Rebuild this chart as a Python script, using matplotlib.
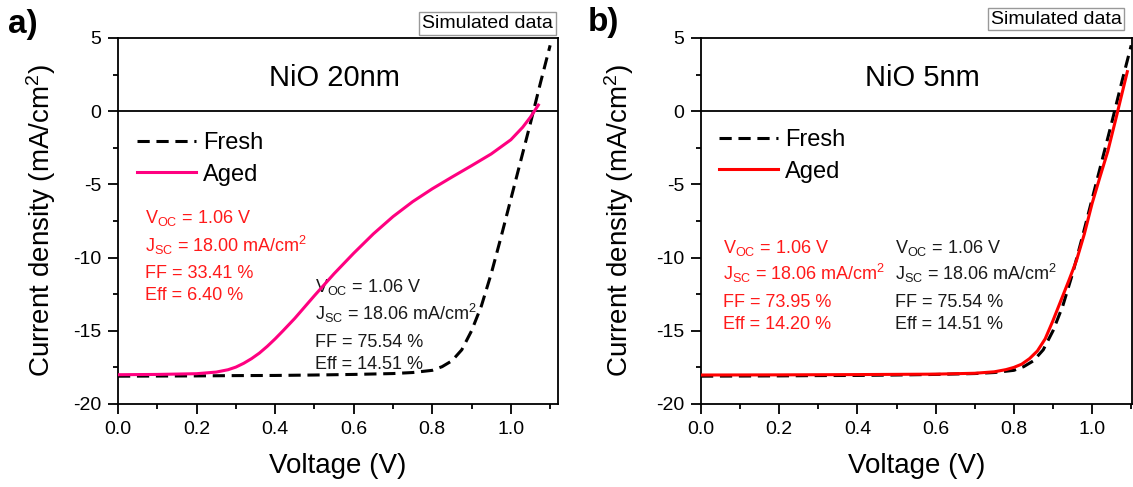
import matplotlib
matplotlib.use("Agg")
import matplotlib.pyplot as plt
from matplotlib.ticker import MultipleLocator

plt.rcParams["font.family"] = ["Liberation Sans", "DejaVu Sans"]
plt.rcParams["mathtext.fontset"] = "custom"
plt.rcParams["mathtext.rm"] = "Liberation Sans"
plt.rcParams["mathtext.default"] = "regular"
plt.rcParams["axes.unicode_minus"] = False

# fresh device (same in both panels)
fresh_v = [0.00, 0.10, 0.20, 0.30, 0.40, 0.50, 0.60, 0.70, 0.75, 0.80, 0.825, 0.85,
           0.875, 0.90, 0.925, 0.95, 0.975, 1.00, 1.025, 1.05, 1.075, 1.10]
fresh_j = [-18.10, -18.09, -18.08, -18.06, -18.05, -18.02, -17.98, -17.92, -17.85, -17.70, -17.45, -17.05,
           -16.30, -15.00, -13.30, -11.10, -8.60, -6.00, -3.40, -0.80, 1.90, 4.50]

# aged, NiO 20nm
aged20_v = [0.00, 0.10, 0.20, 0.25, 0.28, 0.30, 0.32, 0.34, 0.36, 0.38, 0.40, 0.42, 0.45,
            0.50, 0.55, 0.60, 0.65, 0.70, 0.75, 0.80, 0.85, 0.90, 0.95, 1.00, 1.03, 1.05, 1.07]
aged20_j = [-18.00, -17.98, -17.93, -17.82, -17.66, -17.48, -17.22, -16.90, -16.52, -16.06, -15.55, -15.00, -14.15,
            -12.60, -11.10, -9.70, -8.38, -7.20, -6.18, -5.30, -4.50, -3.72, -2.92, -1.95, -1.10, -0.40, 0.42]

# aged, NiO 5nm
aged5_v = [0.00, 0.20, 0.40, 0.60, 0.70, 0.75, 0.78, 0.80, 0.82, 0.84, 0.86, 0.88, 0.90,
           0.92, 0.94, 0.96, 0.98, 1.00, 1.02, 1.04, 1.06, 1.08, 1.09]
aged5_j = [-18.02, -18.01, -17.99, -17.96, -17.90, -17.80, -17.65, -17.50, -17.28, -16.90, -16.38, -15.55, -14.30,
           -12.95, -11.60, -10.20, -8.40, -6.30, -4.50, -2.75, -0.60, 1.60, 2.70]

fresh_params = [r"V$_{OC}$ = 1.06 V", r"J$_{SC}$ = 18.06 mA/cm$^{2}$", "FF = 75.54 %", "Eff = 14.51 %"]
aged20_params = [r"V$_{OC}$ = 1.06 V", r"J$_{SC}$ = 18.00 mA/cm$^{2}$", "FF = 33.41 %", "Eff = 6.40 %"]
aged5_params = [r"V$_{OC}$ = 1.06 V", r"J$_{SC}$ = 18.06 mA/cm$^{2}$", "FF = 73.95 %", "Eff = 14.20 %"]

W, H = 1133, 487
fig = plt.figure(figsize=(W / 100, H / 100), dpi=100)


def px_axes(left, right, top, bottom):
    return fig.add_axes([left / W, 1 - bottom / H, (right - left) / W, (bottom - top) / H])


def style(ax, xmax, ylabel_x):
    ax.set_xlim(0, xmax)
    ax.set_ylim(-20, 5)
    ax.axhline(0, color="black", lw=1.3, zorder=1)
    ax.xaxis.set_major_locator(MultipleLocator(0.2))
    ax.xaxis.set_minor_locator(MultipleLocator(0.1))
    ax.yaxis.set_major_locator(MultipleLocator(5))
    ax.yaxis.set_minor_locator(MultipleLocator(2.5))
    ax.tick_params(which="both", direction="out", width=1.3, labelsize=14, top=False, right=False)
    ax.tick_params(which="major", length=7)
    ax.tick_params(which="minor", length=3.6)
    ax.tick_params(axis="x", pad=5)
    ax.tick_params(axis="y", pad=5)
    for s in ax.spines.values():
        s.set_linewidth(1.3)
    ax.set_xlabel("Voltage (V)", fontsize=20)
    ax.set_ylabel("Current density (mA/cm$^{2}$)", fontsize=20)
    ax.xaxis.set_label_coords(0.5, -0.134)
    ax.yaxis.set_label_coords(ylabel_x, 0.5)


def params_text(ax, x, ys, lines, color):
    for y, line in zip(ys, lines):
        ax.text(x, y, line, fontsize=13, color=color, va="baseline", ha="left")


dash = (0, (4, 2.2))

# panel a
ax_a = px_axes(118, 558, 38, 404)
style(ax_a, 1.12, -0.136)
ax_a.plot(fresh_v, fresh_j, color="black", lw=2.2, ls=dash, label="Fresh", zorder=3)
ax_a.plot(aged20_v, aged20_j, color="#FF0080", lw=2.2, label="Aged", zorder=4)
ax_a.text(0.552, 2.25, "NiO 20nm", fontsize=21, ha="center", va="center")
ax_a.legend(loc="upper left", bbox_to_anchor=(0.043, 0.743), frameon=False, fontsize=17,
            borderpad=0, borderaxespad=0, handlelength=2.5, handletextpad=0.3, labelspacing=0.4)
params_text(ax_a, 0.069, [-7.64, -9.62, -11.39, -12.90], aged20_params, "#FF1A1A")
params_text(ax_a, 0.501, [-12.35, -14.26, -16.11, -17.61], fresh_params, "#1a1a1a")

# panel b
ax_b = px_axes(701, 1132, 38, 404)
style(ax_b, 1.102, -0.151)
ax_b.plot(fresh_v, fresh_j, color="black", lw=2.2, ls=dash, label="Fresh", zorder=3)
ax_b.plot(aged5_v, aged5_j, color="#FF0000", lw=2.2, label="Aged", zorder=4)
ax_b.text(0.565, 2.25, "NiO 5nm", fontsize=21, ha="center", va="center")
ax_b.legend(loc="upper left", bbox_to_anchor=(0.042, 0.751), frameon=False, fontsize=17,
            borderpad=0, borderaxespad=0, handlelength=2.5, handletextpad=0.3, labelspacing=0.4)
params_text(ax_b, 0.056, [-9.69, -11.53, -13.37, -14.88], aged5_params, "#FF1A1A")
params_text(ax_b, 0.496, [-9.69, -11.53, -13.37, -14.88], fresh_params, "#1a1a1a")

# tags and panel letters
box = dict(boxstyle="square,pad=0.15", facecolor="white", edgecolor="#999999", lw=1)
fig.text(487.5 / W, 1 - 23.5 / H, "Simulated data", fontsize=14, ha="center", va="center", bbox=box)
fig.text(1056 / W, 1 - 19 / H, "Simulated data", fontsize=14, ha="center", va="center", bbox=box)
fig.text(8 / W, 1 - 24 / H, "a)", fontsize=24, fontweight="bold", ha="left", va="center")
fig.text(588 / W, 1 - 23 / H, "b)", fontsize=24, fontweight="bold", ha="left", va="center")

fig.savefig("out.png", dpi=100)
